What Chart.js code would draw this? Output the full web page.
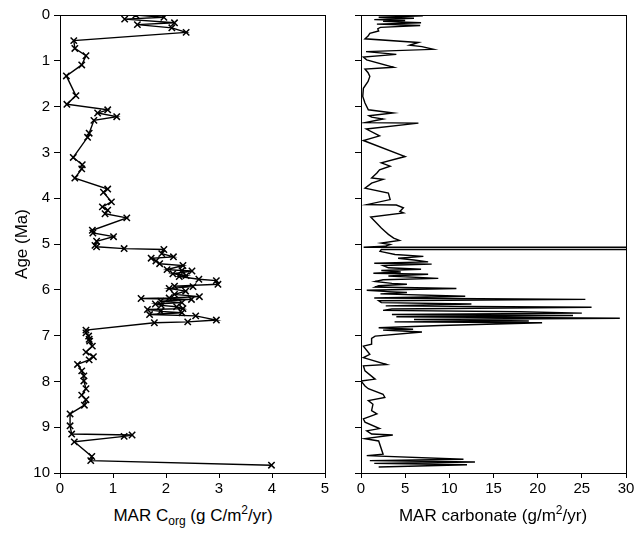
<!DOCTYPE html>
<html>
<head>
<meta charset="utf-8">
<script src="https://cdn.jsdelivr.net/npm/chart.js@4"></script>
<style>
    body { margin: 0; background: #fff; }
    #wrap { position: relative; width: 644px; height: 537px; font-family: "Liberation Sans", Arial, sans-serif; color: #000; }
    #leftChart { position: absolute; left: 0; top: 0; }
    #rightChart { position: absolute; left: 300px; top: 0; }
    .xtitle { position: absolute; top: 503px; font-size: 17px; white-space: nowrap; transform: translateX(-50%); }
    .xtitle sub, .xtitle sup { font-size: 12px; }
</style>
</head>
<body>
<div id="wrap">
    <canvas id="leftChart" width="340" height="500"></canvas>
    <canvas id="rightChart" width="344" height="500"></canvas>
    <div class="xtitle" style="left:193px">MAR C<sub>org</sub> (g C/m<sup>2</sup>/yr)</div>
    <div class="xtitle" style="left:493px">MAR carbonate (g/m<sup>2</sup>/yr)</div>
</div>
<script>
// MAR Corg (left panel) - age in Ma, value in g C/m2/yr
const corgAge = [0.00, 0.05, 0.09, 0.17, 0.21, 0.28, 0.38, 0.56, 0.73, 0.89, 1.09, 1.33, 1.76, 1.95,
    2.07, 2.14, 2.22, 2.30, 2.58, 2.67, 3.11, 3.27, 3.36, 3.56, 3.80, 3.87, 4.08, 4.19, 4.26, 4.34,
    4.43, 4.70, 4.76, 4.84, 4.94, 5.03, 5.06, 5.10, 5.12, 5.21, 5.28, 5.31, 5.37, 5.43, 5.47, 5.56,
    5.58, 5.59, 5.65, 5.69, 5.71, 5.77, 5.80, 5.88, 5.92, 5.93, 5.97, 6.03, 6.10, 6.15, 6.18, 6.19,
    6.21, 6.25, 6.28, 6.31, 6.34, 6.37, 6.41, 6.43, 6.47, 6.50, 6.54, 6.57, 6.66, 6.70, 6.72, 6.88,
    6.94, 7.01, 7.08, 7.12, 7.23, 7.36, 7.46, 7.53, 7.63, 7.77, 7.88, 7.99, 8.16, 8.30, 8.40, 8.52,
    8.71, 8.97, 9.15, 9.17, 9.20, 9.32, 9.64, 9.73, 9.83];
const corgValue = [1.43, 1.96, 1.22, 2.16, 1.46, 2.11, 2.38, 0.26, 0.28, 0.49, 0.41, 0.12, 0.30, 0.13,
    0.90, 0.71, 1.07, 0.64, 0.55, 0.52, 0.25, 0.42, 0.41, 0.28, 0.90, 0.82, 0.97, 0.80, 0.90, 0.85,
    1.26, 0.61, 0.62, 1.01, 0.69, 0.66, 0.69, 1.21, 1.96, 1.92, 2.14, 1.72, 1.81, 1.88, 2.32, 2.02,
    2.30, 2.49, 2.13, 2.38, 2.25, 2.62, 2.95, 2.98, 2.16, 2.51, 2.06, 2.37, 2.16, 2.63, 2.06, 1.53,
    2.48, 1.90, 2.30, 1.80, 1.91, 2.20, 2.32, 1.65, 1.90, 2.30, 1.69, 2.56, 2.95, 2.41, 1.78, 0.49,
    0.49, 0.54, 0.55, 0.56, 0.61, 0.49, 0.63, 0.55, 0.33, 0.41, 0.45, 0.45, 0.49, 0.41, 0.49, 0.46,
    0.19, 0.19, 0.22, 1.36, 1.21, 0.27, 0.60, 0.58, 3.99];

// MAR carbonate (right panel) - the 5.1 Ma spike runs off the axis
const carbAge = [0.00, 0.02, 0.05, 0.07, 0.10, 0.12, 0.14, 0.17, 0.20, 0.23, 0.27, 0.30, 0.35, 0.40,
    0.46, 0.52, 0.60, 0.66, 0.69, 0.75, 0.80, 0.86, 0.92, 0.98, 1.14, 1.18, 1.26, 1.34, 1.45, 1.60,
    1.78, 1.92, 2.07, 2.14, 2.20, 2.23, 2.27, 2.35, 2.36, 2.49, 2.64, 2.74, 3.09, 3.23, 3.30, 3.38,
    3.45, 3.56, 3.59, 3.67, 3.78, 3.89, 4.03, 4.14, 4.15, 4.21, 4.29, 4.32, 4.41, 4.65, 4.72, 4.79,
    4.87, 4.92, 4.98, 5.01, 5.05, 5.07, 5.071, 5.12, 5.121, 5.16, 5.23, 5.27, 5.31, 5.35, 5.39, 5.42,
    5.44, 5.47, 5.52, 5.55, 5.58, 5.61, 5.64, 5.66, 5.70, 5.75, 5.78, 5.82, 5.86, 5.88, 5.91, 5.94,
    5.97, 6.01, 6.04, 6.06, 6.09, 6.14, 6.18, 6.21, 6.24, 6.28, 6.31, 6.35, 6.38, 6.42, 6.45, 6.48,
    6.51, 6.54, 6.56, 6.59, 6.62, 6.65, 6.68, 6.70, 6.72, 6.78, 6.83, 6.86, 6.88, 6.92, 7.01, 7.06,
    7.19, 7.23, 7.41, 7.48, 7.63, 7.66, 7.77, 7.95, 7.99, 8.10, 8.16, 8.28, 8.35, 8.42, 8.50, 8.64,
    8.71, 8.82, 8.89, 9.03, 9.08, 9.15, 9.17, 9.25, 9.30, 9.59, 9.62, 9.70, 9.73, 9.76, 9.79, 9.82,
    9.87];
const carbValue = [4.5, 7.0, 2.0, 6.0, 1.5, 5.0, 2.5, 6.8, 1.8, 6.7, 2.2, 1.9, 2.0, 1.0,
    0.8, 0.45, 6.5, 5.5, 6.9, 8.2, 0.57, 4.0, 0.27, 0.64, 3.7, 0.45, 0.8, 1.0, 0.8, 0.27,
    0.2, 0.45, 0.83, 3.65, 0.9, 1.2, 2.5, 0.5, 6.5, 0.6, 2.1, 0.27, 5.0, 2.3, 3.3, 2.1,
    1.8, 1.2, 2.5, 1.2, 0.45, 3.1, 3.3, 0.65, 4.0, 4.8, 4.4, 4.8, 1.1, 2.3, 2.7, 3.1,
    3.7, 4.35, 2.3, 3.3, 2.7, 0.3, 1000, 1000, 2.3, 2.15, 3.85, 7.06, 4.2, 6.0, 7.6, 1.5,
    8.0, 2.5, 3.1, 6.8, 2.3, 4.5, 1.4, 7.6, 3.1, 8.75, 2.5, 1.6, 3.5, 5.2, 2.0, 1.6,
    10.8, 0.65, 3.0, 5.2, 2.2, 11.8, 1.5, 25.4, 2.0, 2.3, 12.5, 2.8, 26.1, 3.5, 2.5, 18.0,
    25.0, 3.5, 24.0, 4.0, 29.3, 6.0, 19.0, 3.8, 20.5, 9.0, 2.0, 5.9, 2.5, 6.9, 1.6, 1.2,
    1.2, 0.27, 1.0, 0.27, 2.9, 0.27, 0.45, 1.6, 0.0, 0.45, 0.83, 2.5, 2.7, 0.83, 1.35, 1.2,
    1.8, 0.27, 0.45, 2.1, 0.65, 1.2, 3.6, 0.45, 2.0, 2.5, 0.65, 11.6, 1.0, 12.9, 1.5, 12.0,
    2.0];

const corgMax = 5;
const carbMax = 30;

Chart.defaults.font.family = '"Liberation Sans", Arial, sans-serif';
Chart.defaults.color = '#000';

// draws the box round the plot area
const frame = {
    id: 'frame',
    afterDraw(chart) {
        const a = chart.chartArea;
        const c = chart.ctx;
        c.save();
        c.strokeStyle = '#000';
        c.lineWidth = 1;
        c.strokeRect(a.left + 0.5, a.top + 0.5, a.right - a.left, a.bottom - a.top);
        c.restore();
    }
};

function toPoints(xs, ys) {
    return xs.map((v, i) => ({ x: v, y: ys[i] }));
}

function makeOptions(xMax, xStep, showAgeLabels, rightPad) {
    return {
        responsive: false,
        animation: false,
        devicePixelRatio: 1,
        layout: { padding: { top: 15, right: rightPad, left: 0, bottom: 0 } },
        plugins: { legend: { display: false }, tooltip: { enabled: false } },
        scales: {
            x: {
                type: 'linear',
                min: 0,
                max: xMax,
                ticks: { stepSize: xStep, font: { size: 15 }, padding: 2, maxRotation: 0 },
                grid: { drawOnChartArea: false, tickLength: 5, color: '#000' },
                border: { color: '#000' },
                afterFit: s => { s.height = 27; }
            },
            y: {
                type: 'linear',
                reverse: true,
                min: 0,
                max: 10,
                ticks: { stepSize: 1, font: { size: 15 }, padding: 4, display: showAgeLabels },
                grid: { drawOnChartArea: false, tickLength: 6, color: '#000' },
                border: { color: '#000' },
                title: { display: showAgeLabels, text: 'Age (Ma)', font: { size: 17 }, padding: { top: 12, bottom: 4 } },
                afterFit: s => { s.width = showAgeLabels ? 60 : 61; }
            }
        }
    };
}

new Chart(document.getElementById('leftChart'), {
    type: 'scatter',
    data: {
        datasets: [{
            data: toPoints(corgValue, corgAge),
            showLine: true,
            borderColor: '#000',
            borderWidth: 1.4,
            pointStyle: 'crossRot',
            pointRadius: 4.5,
            pointBorderWidth: 1.5,
            pointBorderColor: '#000'
        }]
    },
    options: makeOptions(corgMax, 1, true, 15),
    plugins: [frame]
});

new Chart(document.getElementById('rightChart'), {
    type: 'scatter',
    data: {
        datasets: [{
            data: toPoints(carbValue, carbAge),
            showLine: true,
            borderColor: '#000',
            borderWidth: 1.4,
            pointRadius: 0,
            clip: 0
        }]
    },
    options: makeOptions(carbMax, 5, false, 18),
    plugins: [frame]
});
</script>
</body>
</html>
